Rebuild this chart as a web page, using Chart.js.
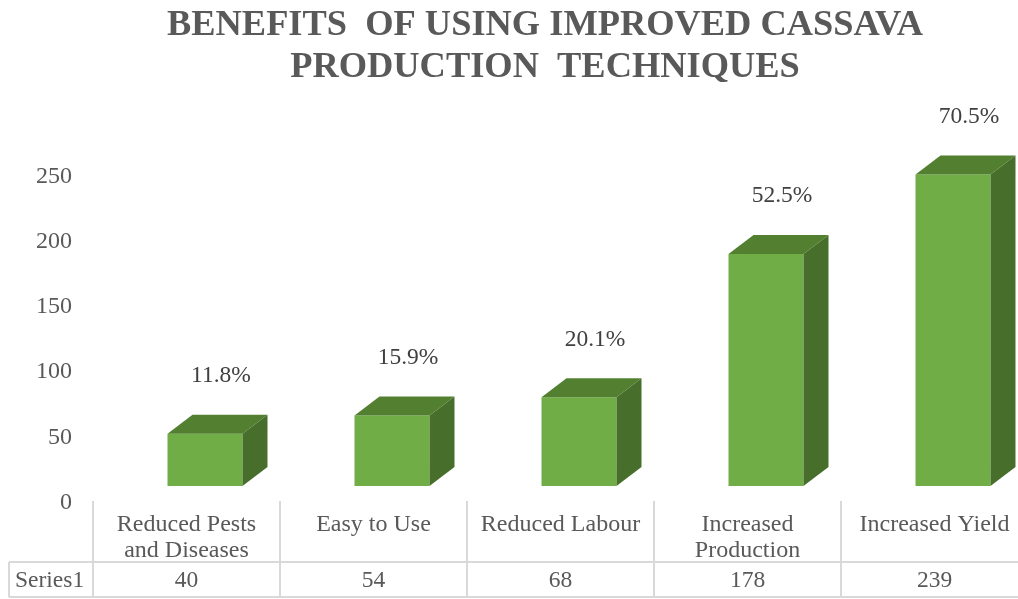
<!DOCTYPE html>
<html>
<head>
<meta charset="utf-8">
<title>Benefits of using improved cassava production techniques</title>
<style>
  html, body { margin: 0; padding: 0; background: #fff; overflow: hidden; }
  #wrap { width: 1018px; height: 599px; overflow: hidden; }
  canvas { display: block; }
</style>
</head>
<body>
<div id="wrap"><canvas id="chart" width="1090" height="599" style="width:1090px;height:599px"></canvas></div>
<script src="https://cdn.jsdelivr.net/npm/chart.js@4/dist/chart.umd.min.js"></script>
<script>
/* ---------- Data ---------- */
const titleLines = ["BENEFITS  OF USING IMPROVED CASSAVA", "PRODUCTION  TECHNIQUES"];
const categories = [
  ["Reduced Pests", "and Diseases"],
  ["Easy to Use"],
  ["Reduced Labour"],
  ["Increased", "Production"],
  ["Increased Yield"]
];
const seriesName = "Series1";
const values = [40, 54, 68, 178, 239];
const percents = ["11.8%", "15.9%", "20.1%", "52.5%", "70.5%"];
const yTicks = [0, 50, 100, 150, 200, 250];

/* ---------- Look ---------- */
const SERIF = '"Liberation Serif", serif';
const FRONT = "#70AD47", TOP = "#528030", SIDE = "#476F2B";
const LINE = "#D9D9D9";
const FONT_PX = 24;
const VALUE_PX = 23.5;

// the front faces sit right of the category centre and above the zero tick, like Excel 3D columns
const SHIFT_X = 18.5;
const DEPTH_X = 25, DEPTH_Y = 19;
const LABEL_DX = 16, LABEL_DY = 58;
const FLOOR_UNITS = 11.5;
const Y_MAX = 270;
const TICK_NUDGE = 1.15; // serif digits ride high on the middle baseline

/* ---------- 3D faces, labels and data table ---------- */
const columns3d = {
  id: "columns3d",
  beforeDatasetsDraw(chart) {
    chart.ctx.save();
    chart.ctx.translate(SHIFT_X, 0);
  },
  afterDatasetsDraw(chart) {
    const ctx = chart.ctx;
    chart.getDatasetMeta(0).data.forEach((bar, i) => {
      const l = bar.x - bar.width / 2, r = bar.x + bar.width / 2;
      const t = bar.y, b = bar.base;

      ctx.fillStyle = TOP;
      ctx.beginPath();
      ctx.moveTo(l, t);
      ctx.lineTo(l + DEPTH_X, t - DEPTH_Y);
      ctx.lineTo(r + DEPTH_X, t - DEPTH_Y);
      ctx.lineTo(r, t);
      ctx.closePath();
      ctx.fill();

      ctx.fillStyle = SIDE;
      ctx.beginPath();
      ctx.moveTo(r, t);
      ctx.lineTo(r + DEPTH_X, t - DEPTH_Y);
      ctx.lineTo(r + DEPTH_X, b - DEPTH_Y);
      ctx.lineTo(r, b);
      ctx.closePath();
      ctx.fill();

      ctx.fillStyle = "#404040";
      ctx.font = `${VALUE_PX}px ${SERIF}`;
      ctx.textAlign = "center";
      ctx.textBaseline = "middle";
      ctx.fillText(percents[i], bar.x + LABEL_DX, t - LABEL_DY);
    });
    ctx.restore();
  },
  afterDraw(chart) {
    const ctx = chart.ctx, xs = chart.scales.x;
    const rowTop = 562, rowBottom = 597, rowLeft = 9, right = chart.chartArea.right;
    ctx.save();
    ctx.strokeStyle = LINE;
    ctx.lineWidth = 2;
    ctx.beginPath();
    ctx.moveTo(rowLeft, rowTop); ctx.lineTo(right, rowTop);
    ctx.moveTo(rowLeft, rowBottom); ctx.lineTo(right, rowBottom);
    ctx.moveTo(rowLeft, rowTop); ctx.lineTo(rowLeft, rowBottom);
    ctx.moveTo(xs.left, rowTop); ctx.lineTo(xs.left, rowBottom);
    values.forEach((v, i) => {
      const edge = xs.getPixelForTick(i) + (xs.getPixelForTick(1) - xs.getPixelForTick(0)) / 2;
      ctx.moveTo(edge, rowTop); ctx.lineTo(edge, rowBottom);
    });
    ctx.stroke();

    ctx.fillStyle = "#595959";
    ctx.font = `${VALUE_PX}px ${SERIF}`;
    ctx.textBaseline = "middle";
    ctx.textAlign = "left";
    ctx.fillText(seriesName, rowLeft + 6, (rowTop + rowBottom) / 2 + 1.5);
    ctx.textAlign = "center";
    values.forEach((v, i) => ctx.fillText(String(v), xs.getPixelForTick(i), (rowTop + rowBottom) / 2 + 1.5));
    ctx.restore();
  }
};

/* ---------- Chart ---------- */
new Chart(document.getElementById("chart"), {
  type: "bar",
  data: {
    labels: categories,
    datasets: [{
      label: seriesName,
      data: values,
      yAxisID: "yBars",
      backgroundColor: FRONT,
      borderWidth: 0,
      barPercentage: 0.401,
      categoryPercentage: 1,
      clip: false
    }]
  },
  plugins: [columns3d],
  options: {
    responsive: false,
    animation: false,
    layout: { padding: 0 },
    plugins: {
      legend: { display: false },
      tooltip: { enabled: false },
      title: {
        display: true,
        text: titleLines,
        color: "#595959",
        font: { family: SERIF, size: 36.4, weight: "bold", lineHeight: 42 / 36.4 },
        padding: { top: 5, bottom: 60 }
      }
    },
    scales: {
      x: {
        afterFit(s) { s.height = 98; },
        grid: { drawOnChartArea: false, drawTicks: true, tickLength: 61, color: LINE, lineWidth: 2, offset: true },
        border: { display: false },
        ticks: {
          autoSkip: false, maxRotation: 0, minRotation: 0, padding: -50,
          color: "#595959",
          font: { family: SERIF, size: FONT_PX, lineHeight: 26 / FONT_PX }
        }
      },
      y: {
        min: TICK_NUDGE,
        max: Y_MAX + TICK_NUDGE,
        afterFit(s) { s.width = 93; },
        afterBuildTicks(s) { s.ticks = yTicks.map(value => ({ value })); },
        grid: { display: false },
        border: { display: false },
        ticks: {
          padding: 13,
          color: "#595959",
          font: { family: SERIF, size: FONT_PX }
        }
      },
      // same unit size as y, lifted so zero lands on the floor of the 3D box
      yBars: {
        position: "right",
        min: -FLOOR_UNITS,
        max: Y_MAX - FLOOR_UNITS,
        afterFit(s) { s.width = 62; },
        grid: { display: false },
        border: { display: false },
        ticks: { display: false }
      }
    }
  }
});
</script>
</body>
</html>
